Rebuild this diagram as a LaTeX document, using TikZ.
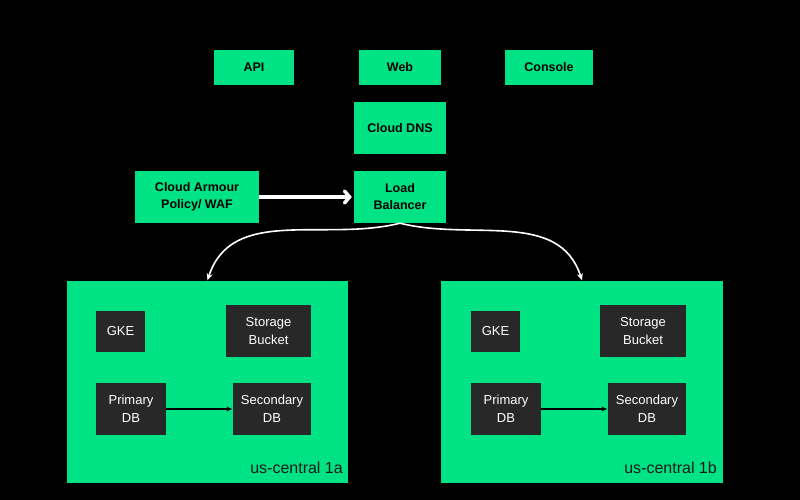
\documentclass[tikz,border=0pt]{standalone}
\usepackage{fontspec}
\setmainfont{Liberation Sans}
\usetikzlibrary{arrows.meta, positioning, calc}
\definecolor{gcpgreen}{HTML}{00E384}
\definecolor{gcpdark}{HTML}{282828}

\begin{document}
\begin{tikzpicture}[
      x=1pt, y=-1pt,
      box/.style={
        rectangle,
        inner sep=0pt,
        align=center,
        font=\fontsize{12.5}{17}\selectfont\bfseries,
        fill=gcpgreen,
        text=black
      },
      inner/.style={
        rectangle,
        inner sep=0pt,
        align=center,
        font=\fontsize{13}{18}\selectfont,
        fill=gcpdark,
        text=white
      },
      zone/.style={rectangle, inner sep=0pt, fill=gcpgreen},
      zonelabel/.style={font=\fontsize{16}{18}\selectfont, text=black!90, anchor=base east, inner sep=0pt},
      arr/.style={-{Straight Barb[length=5pt, width=12pt, line cap=round]}, line width=3.5pt, white},
      curvearr/.style={-{Stealth[length=7pt, width=6pt]}, line width=1.6pt, white},
      dbarr/.style={-{Latex[length=6pt, width=5pt]}, line width=1.6pt, black}
    ]
      % canvas
      \fill[black] (0,0) rectangle (800,500);

      % clients
      \node[box, minimum width=80pt, minimum height=35pt] (api) at (254,67.5) {API};
      \node[box, minimum width=82pt, minimum height=35pt] (web) at (400,67.5) {Web};
      \node[box, minimum width=88pt, minimum height=35pt] (console) at (549,67.5) {Console};

      \node[box, minimum width=92pt, minimum height=52pt] (dns) at (400,128) {Cloud DNS};
      \node[box, minimum width=92pt, minimum height=52pt] (lb) at (400,197) {Load\\Balancer};
      \node[box, minimum width=124pt, minimum height=52pt] (waf) at (197,197) {Cloud Armour\\Policy/ WAF};

      \draw[arr] (waf) -- ($(lb.west)+(-2,0)$);

      % zone a
      \node[zone, minimum width=281pt, minimum height=202pt] (zonea) at (207.5,382) {};
      \node[zonelabel] at (343,473) {us-central 1a};
      \node[inner, minimum width=49pt, minimum height=41pt] (gkea) at (120.5,331.5) {GKE};
      \node[inner, minimum width=85pt, minimum height=52pt] (bucketa) at (268.5,331) {Storage\\Bucket};
      \node[inner, minimum width=70pt, minimum height=52pt] (pdba) at (131,409) {Primary\\DB};
      \node[inner, minimum width=78pt, minimum height=52pt] (sdba) at (272,409) {Secondary\\DB};
      \draw[dbarr] (pdba) -- (sdba);

      % zone b
      \node[zone, minimum width=282pt, minimum height=202pt] (zoneb) at (582,382) {};
      \node[zonelabel] at (717,473) {us-central 1b};
      \node[inner, minimum width=49pt, minimum height=41pt] (gkeb) at (495.5,331.5) {GKE};
      \node[inner, minimum width=86pt, minimum height=52pt] (bucketb) at (643,331) {Storage\\Bucket};
      \node[inner, minimum width=70pt, minimum height=52pt] (pdbb) at (506,409) {Primary\\DB};
      \node[inner, minimum width=78pt, minimum height=52pt] (sdbb) at (647,409) {Secondary\\DB};
      \draw[dbarr] (pdbb) -- (sdbb);

      % load balancer to zones
      \draw[curvearr] (lb.south) to[out=194, in=72] ($(zonea.north)+(0,-0.5)$);
      \draw[curvearr] (lb.south) to[out=-14, in=108] ($(zoneb.north)+(0,-0.5)$);
    \end{tikzpicture}
\end{document}
